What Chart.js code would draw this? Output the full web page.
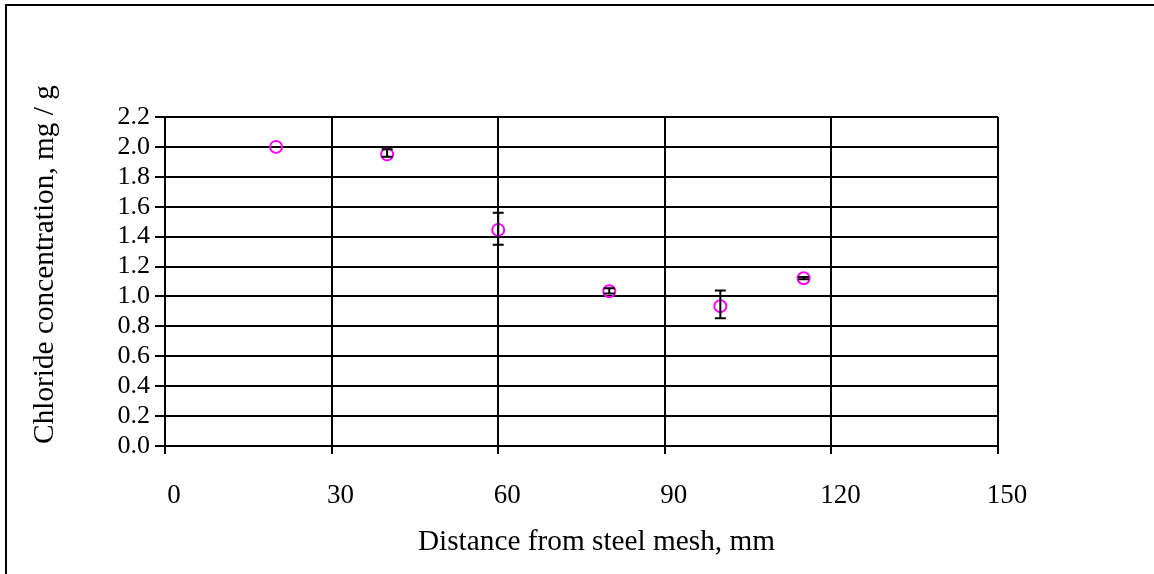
<!DOCTYPE html>
<html>
<head>
<meta charset="utf-8">
<script src="https://cdn.jsdelivr.net/npm/chart.js@4/dist/chart.umd.min.js"></script>
<style>
  html, body { margin: 0; padding: 0; background: #fff; }
  #wrap { width: 1154px; height: 574px; position: relative; }
</style>
</head>
<body>
<div id="wrap"><canvas id="c" width="1154" height="574"></canvas></div>
<script>
// Data
const distances = [20, 40, 60, 80, 100, 115];               // mm
const chloride  = [2.00, 1.95, 1.445, 1.035, 0.935, 1.122];  // mg / g
const errLow    = [2.00, 1.935, 1.345, 1.02, 0.855, 1.115];
const errHigh   = [2.00, 1.985, 1.56, 1.055, 1.04, 1.13];
const xTicks    = [0, 30, 60, 90, 120, 150];
const yTicks    = [0.0, 0.2, 0.4, 0.6, 0.8, 1.0, 1.2, 1.4, 1.6, 1.8, 2.0, 2.2];
const xTitle    = 'Distance from steel mesh, mm';
const yTitle    = 'Chloride concentration, mg / g';

const FONT = "'Liberation Serif', 'Times New Roman', serif";

const frameErrorsTitles = {
  id: 'frameErrorsTitles',
  beforeDraw(chart) {
    const ctx = chart.ctx;
    ctx.save();
    ctx.fillStyle = '#fff';
    ctx.fillRect(0, 0, chart.width, chart.height);
    ctx.strokeStyle = '#000';
    ctx.lineWidth = 2;
    ctx.beginPath();
    ctx.moveTo(6, chart.height);
    ctx.lineTo(6, 5);
    ctx.lineTo(chart.width, 5);
    ctx.stroke();
    ctx.restore();
  },
  afterDatasetsDraw(chart) {
    const ctx = chart.ctx;
    const xs = chart.scales.x, ys = chart.scales.y;
    ctx.save();
    ctx.strokeStyle = '#000';
    ctx.lineWidth = 2;
    for (let i = 0; i < distances.length; i++) {
      if (errHigh[i] === errLow[i]) continue;
      const px = xs.getPixelForValue(distances[i]);
      const top = ys.getPixelForValue(errHigh[i]);
      const bot = ys.getPixelForValue(errLow[i]);
      const cap = 5.5;
      ctx.beginPath();
      ctx.moveTo(px, top); ctx.lineTo(px, bot);
      ctx.moveTo(px - cap, top); ctx.lineTo(px + cap, top);
      ctx.moveTo(px - cap, bot); ctx.lineTo(px + cap, bot);
      ctx.stroke();
    }
    ctx.restore();
  },
  afterDraw(chart) {
    const ctx = chart.ctx;
    const a = chart.chartArea;
    ctx.save();
    ctx.fillStyle = '#000';
    ctx.font = '29.3px ' + FONT;
    ctx.textAlign = 'center';
    ctx.textBaseline = 'alphabetic';
    // x-axis title
    ctx.fillText(xTitle, (a.left + a.right) / 2 + 15, 550);
    // y-axis title (rotated)
    ctx.translate(53, (a.top + a.bottom) / 2 - 17);
    ctx.rotate(-Math.PI / 2);
    ctx.fillText(yTitle, 0, 0);
    ctx.restore();
  }
};

new Chart(document.getElementById('c'), {
  type: 'scatter',
  data: {
    datasets: [{
      label: 'Chloride concentration',
      data: distances.map((d, i) => ({ x: d, y: chloride[i] })),
      borderColor: '#FF00FF',
      backgroundColor: 'rgba(0,0,0,0)',
      pointRadius: 6,
      pointBorderWidth: 2,
      pointStyle: 'circle'
    }]
  },
  options: {
    responsive: false,
    animation: false,
    events: [],
    layout: { padding: { left: 0, top: 117, right: 156, bottom: 0 } },
    plugins: { legend: { display: false }, tooltip: { enabled: false } },
    scales: {
      x: {
        type: 'linear',
        min: xTicks[0], max: xTicks[xTicks.length - 1],
        afterBuildTicks: (s) => { s.ticks = xTicks.map(v => ({ value: v })); },
        afterFit: (s) => { s.height = 128; },
        grid: { color: '#000', lineWidth: 2, tickLength: 8, drawTicks: true },
        border: { display: true, color: '#000', width: 2 },
        ticks: {
          color: '#000', padding: 26, labelOffset: 9, maxRotation: 0, autoSkip: false,
          font: { family: FONT, size: 27 },
          callback: (v) => String(v)
        },
        title: { display: false, text: xTitle }
      },
      y: {
        type: 'linear',
        min: yTicks[0], max: yTicks[yTicks.length - 1],
        afterBuildTicks: (s) => { s.ticks = yTicks.map(v => ({ value: v })); },
        afterFit: (s) => { s.width = 165; },
        grid: { color: '#000', lineWidth: 2, tickLength: 10, drawTicks: true },
        border: { display: true, color: '#000', width: 2 },
        ticks: {
          color: '#000', padding: 5, autoSkip: false,
          font: { family: FONT, size: 26 },
          callback: (v) => Number(v).toFixed(1)
        },
        title: { display: false, text: yTitle }
      }
    }
  },
  plugins: [frameErrorsTitles]
});
</script>
</body>
</html>
